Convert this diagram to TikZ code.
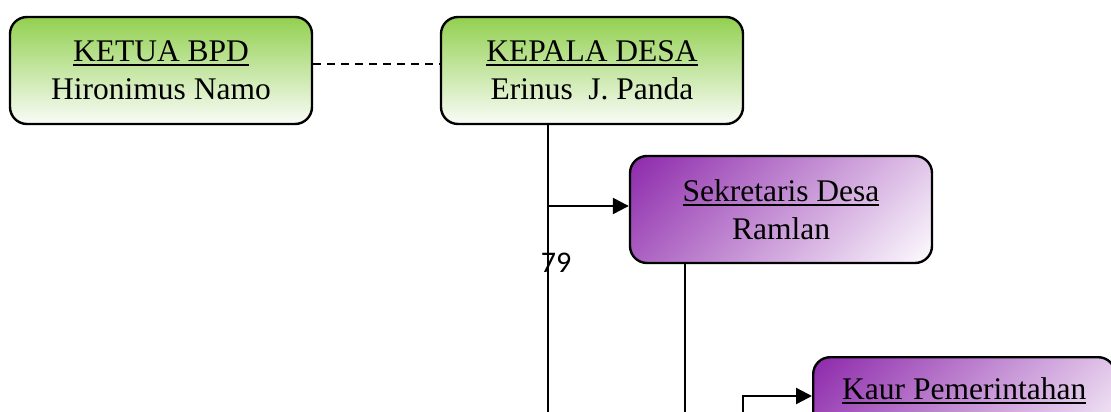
\documentclass[tikz,border=0pt]{standalone}
\usepackage{fontspec}
\setmainfont{Liberation Serif}
\newfontfamily\carlito{Carlito}
\usetikzlibrary{arrows.meta}
\definecolor{grnTop}{RGB}{146,208,80}
\definecolor{grnBot}{RGB}{250,252,248}
\definecolor{purTop}{RGB}{142,42,172}
\definecolor{purBot}{RGB}{253,251,254}
\pgfdeclareverticalshading{purdiag}{100bp}{color(0bp)=(purBot); color(15bp)=(purBot); color(85bp)=(purTop); color(100bp)=(purTop)}
\newcommand{\myul}[1]{\setbox0\hbox{#1}\rlap{\rule[-4.5pt]{\wd0}{1.8pt}}\box0}
\tikzset{
  orgbox/.style={draw=black, line width=2.4pt, rounded corners=17pt,
    minimum width=302pt, minimum height=107pt, inner sep=0pt, align=center,
    font=\fontsize{31.5}{38}\selectfont},
  greenbox/.style={orgbox, top color=grnTop, bottom color=grnBot},
  purplebox/.style={orgbox, shade, shading=purdiag, shading angle=45},
  conn/.style={draw=black, line width=2.4pt},
  arr/.style={conn, -{Triangle[length=16pt,width=16pt]}},
  dashconn/.style={conn, dash pattern=on 8pt off 6pt},
}
\begin{document}
\begin{tikzpicture}[x=1pt,y=-1pt]
\useasboundingbox (0,0) rectangle (1111,412);
\clip (0,0) rectangle (1111,412);
\node[greenbox] (bpd) at (161,70.5) {\myul{KETUA BPD}\\Hironimus Namo};
\node[greenbox] (kades) at (592,70.5) {\myul{KEPALA DESA}\\Erinus\ \ J. Panda};
\node[purplebox] (sek) at (781,209.5) {\myul{Sekretaris Desa}\\Ramlan};
\node[purplebox, anchor=north west, minimum height=0pt, text height=42pt, text depth=65pt] (kaur) at (812,356) {\myul{Kaur Pemerintahan}};
\node[font=\carlito\fontsize{30}{36}\selectfont, anchor=base, inner sep=0pt] (pg) at (556,272) {79};
\coordinate (k1) at (548,124);
\coordinate (k1end) at (548,412);
\coordinate (s1end) at (685,412);
\coordinate (b1) at (743,412);
\coordinate (b2) at (743,396);
\draw[dashconn] (bpd.east |- 0,64) -- (kades.west |- 0,64);
\draw[conn] (k1) -- (k1end);
\draw[arr] (k1 |- 0,206) -- (sek.west |- 0,206);
\draw[conn] (sek.south -| s1end) -- (s1end);
\draw[arr] (b1) -- (b2) -- (kaur.west |- b2);
\end{tikzpicture}
\end{document}
